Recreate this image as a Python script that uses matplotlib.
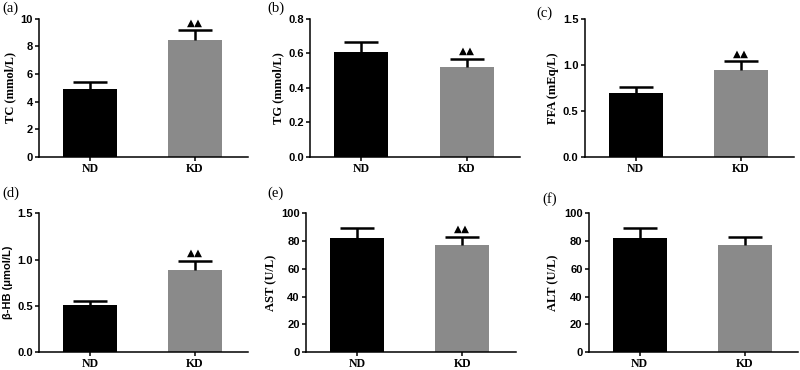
import matplotlib.pyplot as plt
import numpy as np

groups = ["ND", "KD"]

# mean values and upper error (SD) per panel
tc_mean = [4.9, 8.45]
tc_err = [0.55, 0.72]
tg_mean = [0.61, 0.52]
tg_err = [0.057, 0.048]
ffa_mean = [0.69, 0.94]
ffa_err = [0.07, 0.10]
hb_mean = [0.505, 0.89]
hb_err = [0.045, 0.097]
ast_mean = [82.5, 77.5]
ast_err = [7.2, 5.5]
alt_mean = [82.5, 77.5]
alt_err = [7.2, 5.5]

panels = [
    ("(a)", "TC (mmol/L)", tc_mean, tc_err, [0, 2, 4, 6, 8, 10], "%d", True),
    ("(b)", "TG (mmol/L)", tg_mean, tg_err, [0.0, 0.2, 0.4, 0.6, 0.8], "%.1f", True),
    ("(c)", "FFA (mEq/L)", ffa_mean, ffa_err, [0.0, 0.5, 1.0, 1.5], "%.1f", True),
    ("(d)", "β-HB (μmol/L)", hb_mean, hb_err, [0.0, 0.5, 1.0, 1.5], "%.1f", True),
    ("(e)", "AST (U/L)", ast_mean, ast_err, [0, 20, 40, 60, 80, 100], "%d", True),
    ("(f)", "ALT (U/L)", alt_mean, alt_err, [0, 20, 40, 60, 80, 100], "%d", False),
]

# axes boxes in figure fraction (left, bottom, width, height)
boxes = [
    (0.049, 0.576, 0.261, 0.373),
    (0.3875, 0.576, 0.2625, 0.373),
    (0.731, 0.576, 0.261, 0.373),
    (0.049, 0.049, 0.261, 0.374),
    (0.3825, 0.049, 0.262, 0.374),
    (0.736, 0.049, 0.261, 0.374),
]
label_pos = [(0.003, 0.978), (0.334, 0.978), (0.671, 0.963),
             (0.003, 0.478), (0.334, 0.478), (0.678, 0.462)]

colors = ["black", "#8a8a8a"]
serif = "Liberation Serif"
sans = "Liberation Sans"

fig = plt.figure(figsize=(8, 3.7), dpi=100)

for (tag, ylab, mean, err, ticks, fmt, mark), box, lp in zip(panels, boxes, label_pos):
    ax = fig.add_axes(box)
    x = np.arange(len(groups))
    ax.bar(x, mean, width=0.514, color=colors, zorder=2)
    eb = ax.errorbar(x, mean, yerr=[[0, 0], err], fmt="none", ecolor="black",
                     elinewidth=1.8, capsize=12, capthick=1.8, zorder=3)
    # only the upper cap is drawn (one-sided SD bars)
    for cap in eb[1]:
        if np.allclose(cap.get_ydata(), mean):
            cap.set_visible(False)
    if mark:
        ax.annotate("▲▲", (x[1], mean[1] + err[1]), xytext=(0, 2),
                    textcoords="offset points", ha="center", va="bottom",
                    fontsize=7.5, family="DejaVu Sans")
    ax.set_xlim(-0.486, 1.505)
    ax.set_ylim(ticks[0], ticks[-1])
    ax.set_yticks(ticks)
    ax.set_yticklabels([fmt % t for t in ticks], family=sans,
                       fontweight="bold", fontsize=8)
    ax.set_xticks(x)
    ax.set_xticklabels(groups, family=serif, fontweight="bold", fontsize=8.5)
    if tag == "(d)":
        ax.set_ylabel(ylab, family=sans, fontweight="bold", fontsize=8)
    else:
        ax.set_ylabel(ylab, family=serif, fontweight="bold", fontsize=9)
    ax.yaxis.labelpad = 3
    for s in ["top", "right"]:
        ax.spines[s].set_visible(False)
    for s in ["left", "bottom"]:
        ax.spines[s].set_linewidth(1.1)
    ax.tick_params(axis="both", direction="out", length=3, width=1.1, pad=1.5)
    fig.text(lp[0], lp[1], tag, family=serif, fontsize=10.5, va="center", ha="left")

fig.savefig("out.png", dpi=100)
